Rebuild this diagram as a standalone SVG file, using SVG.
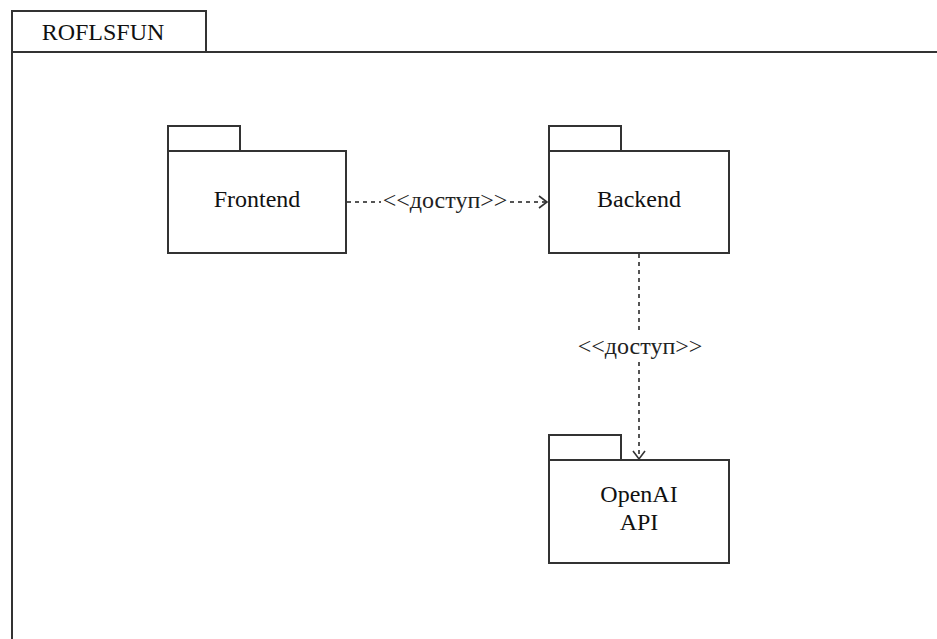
<svg xmlns="http://www.w3.org/2000/svg" width="937" height="639" viewBox="0 0 937 639">
<style>
.sh{fill:#fff;stroke:#333;stroke-width:2}
.t{font-family:"Liberation Serif",serif;font-size:24px;fill:#111;text-anchor:middle}
.lb{font-family:"Liberation Serif",serif;font-size:24px;fill:#222;text-anchor:middle}
.c{fill:none;stroke:#555;stroke-width:2;stroke-dasharray:4,4}
.ah{fill:none;stroke:#333;stroke-width:1.6}
</style>
<rect width="937" height="639" fill="#fff"/>
<g id="frame">
<rect class="sh" x="12" y="11" width="194" height="41"/>
<path d="M12 52 H937 M12 52 V639" fill="none" stroke="#333" stroke-width="2"/>
<text class="t" x="103" y="40">ROFLSFUN</text>
</g>
<g id="frontend">
<rect class="sh" x="168" y="126" width="72" height="25"/>
<rect class="sh" x="168" y="151" width="178" height="102"/>
<text class="t" x="257" y="207">Frontend</text>
</g>
<g id="backend">
<rect class="sh" x="549" y="126" width="72" height="25"/>
<rect class="sh" x="549" y="151" width="180" height="102"/>
<text class="t" x="639" y="207">Backend</text>
</g>
<g id="openai">
<rect class="sh" x="549" y="435" width="72" height="25"/>
<rect class="sh" x="549" y="460" width="180" height="103"/>
<text class="t" x="639" y="502">OpenAI</text>
<text class="t" x="639" y="530">API</text>
</g>
<g id="connectors">
<path class="c" d="M347 202 H381"/>
<path class="c" d="M510 202 H546"/>
<path class="ah" d="M539 196 L547 202 L539 208"/>
<text class="lb" x="445" y="208">&lt;&lt;доступ&gt;&gt;</text>
<path class="c" d="M639 254 V332"/>
<path class="c" d="M639 362 V458"/>
<path class="ah" d="M633 451 L639 459 L645 451"/>
<text class="lb" x="640" y="354">&lt;&lt;доступ&gt;&gt;</text>
</g>
</svg>
